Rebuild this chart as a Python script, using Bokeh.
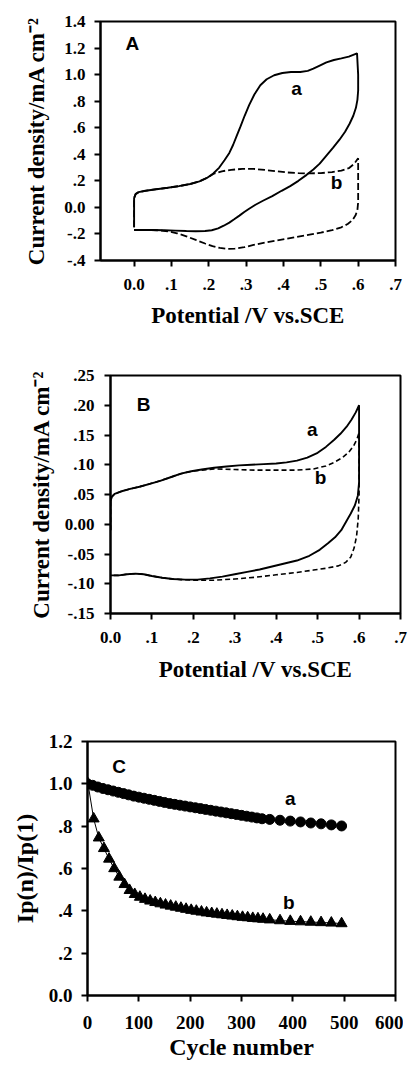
from bokeh.plotting import figure
from bokeh.layouts import column
from bokeh.models import Label, FixedTicker, Range1d, CustomJSTickFormatter
from bokeh.embed import file_html
from bokeh.resources import INLINE

SERIF = "Liberation Serif"
SANS = "Liberation Sans"

# ---------------- Panel A data ----------------
A_xticks = [0.0, 0.1, 0.2, 0.3, 0.4, 0.5, 0.6, 0.7]
A_xlabels = ["0.0", ".1", ".2", ".3", ".4", ".5", ".6", ".7"]
A_yticks = [-0.4, -0.2, 0.0, 0.2, 0.4, 0.6, 0.8, 1.0, 1.2, 1.4]
A_ylabels = ["-.4", "-.2", "0.0", ".2", ".4", ".6", ".8", "1.0", "1.2", "1.4"]

A_a_x = [0.000, 0.000, 0.000, 0.004, 0.012, 0.030, 0.060, 0.090, 0.120, 0.150, 0.175, 0.195,
         0.212, 0.228, 0.242, 0.255, 0.265, 0.275, 0.285, 0.296, 0.308, 0.322, 0.338, 0.355,
         0.375, 0.397, 0.420, 0.445, 0.465, 0.480, 0.497, 0.515, 0.535, 0.555, 0.575, 0.597,
         0.600, 0.600, 0.598, 0.594, 0.587, 0.577, 0.565, 0.550, 0.533, 0.515, 0.497, 0.480,
         0.462, 0.440, 0.418, 0.395, 0.370, 0.345, 0.325, 0.308, 0.295, 0.282, 0.268, 0.255,
         0.240, 0.225, 0.208, 0.190, 0.165, 0.140, 0.110, 0.080, 0.050, 0.020, 0.000]
A_a_y = [-0.150, 0.000, 0.070, 0.100, 0.115, 0.125, 0.137, 0.148, 0.160, 0.176, 0.196, 0.222,
         0.255, 0.300, 0.355, 0.410, 0.470, 0.540, 0.610, 0.690, 0.770, 0.850, 0.920, 0.965,
         0.995, 1.012, 1.020, 1.020, 1.028, 1.045, 1.068, 1.092, 1.110, 1.122, 1.135, 1.160,
         1.000, 0.880, 0.810, 0.750, 0.690, 0.630, 0.570, 0.510, 0.450, 0.390, 0.330, 0.285,
         0.245, 0.200, 0.160, 0.125, 0.085, 0.050, 0.020, -0.010, -0.035, -0.062, -0.090, -0.115,
         -0.138, -0.158, -0.172, -0.178, -0.180, -0.178, -0.175, -0.172, -0.170, -0.170, -0.170]

A_b_x = [0.000, 0.000, 0.000, 0.004, 0.012, 0.030, 0.060, 0.090, 0.120, 0.150, 0.175, 0.195,
         0.212, 0.235, 0.260, 0.290, 0.320, 0.350, 0.380, 0.410, 0.440, 0.470, 0.500, 0.530,
         0.555, 0.575, 0.590, 0.600, 0.600, 0.600, 0.598, 0.593, 0.585, 0.572, 0.555, 0.530,
         0.500, 0.470, 0.440, 0.410, 0.380, 0.350, 0.320, 0.295, 0.270, 0.250, 0.230, 0.210,
         0.190, 0.165, 0.140, 0.115, 0.090, 0.060, 0.030, 0.000]
A_b_y = [-0.150, 0.000, 0.070, 0.100, 0.115, 0.125, 0.137, 0.148, 0.160, 0.176, 0.196, 0.222,
         0.252, 0.272, 0.283, 0.290, 0.290, 0.282, 0.272, 0.263, 0.258, 0.256, 0.258, 0.266,
         0.277, 0.295, 0.330, 0.370, 0.200, 0.040, -0.020, -0.060, -0.095, -0.125, -0.150, -0.172,
         -0.190, -0.205, -0.220, -0.235, -0.250, -0.265, -0.283, -0.300, -0.310, -0.312, -0.305, -0.292,
         -0.272, -0.245, -0.218, -0.195, -0.180, -0.172, -0.170, -0.170]

# ---------------- Panel B data ----------------
B_xticks = [0.0, 0.1, 0.2, 0.3, 0.4, 0.5, 0.6, 0.7]
B_xlabels = ["0.0", ".1", ".2", ".3", ".4", ".5", ".6", ".7"]
B_yticks = [-0.15, -0.10, -0.05, 0.0, 0.05, 0.10, 0.15, 0.20, 0.25]
B_ylabels = ["-.15", "-.10", "-.05", "0.00", ".05", ".10", ".15", ".20", ".25"]

B_a_x = [0.000, 0.000, 0.000, 0.003, 0.010, 0.025, 0.045, 0.070, 0.095, 0.120, 0.145, 0.170,
         0.195, 0.220, 0.250, 0.280, 0.310, 0.340, 0.370, 0.400, 0.425, 0.450, 0.475, 0.500,
         0.520, 0.540, 0.555, 0.570, 0.582, 0.592, 0.600,
         0.600, 0.600, 0.597, 0.590, 0.580, 0.570, 0.557, 0.542, 0.525, 0.505, 0.480, 0.450,
         0.420, 0.390, 0.360, 0.330, 0.300, 0.270, 0.240, 0.210, 0.180, 0.150, 0.125, 0.100,
         0.080, 0.060, 0.040, 0.020, 0.000]
B_a_y = [-0.010, 0.020, 0.038, 0.046, 0.051, 0.055, 0.059, 0.063, 0.068, 0.073, 0.079, 0.085,
         0.089, 0.092, 0.095, 0.097, 0.099, 0.100, 0.101, 0.102, 0.104, 0.107, 0.112, 0.120,
         0.130, 0.142, 0.152, 0.164, 0.176, 0.188, 0.200,
         0.120, 0.070, 0.048, 0.032, 0.018, 0.006, -0.010, -0.022, -0.032, -0.043, -0.053, -0.061,
         -0.066, -0.071, -0.076, -0.080, -0.084, -0.088, -0.091, -0.093, -0.093, -0.092, -0.090, -0.087,
         -0.084, -0.083, -0.084, -0.086, -0.086]

B_b_x = [0.000, 0.000, 0.000, 0.003, 0.010, 0.025, 0.045, 0.070, 0.095, 0.120, 0.145, 0.170,
         0.195, 0.220, 0.250, 0.300, 0.350, 0.400, 0.450, 0.490, 0.520, 0.540, 0.560, 0.575,
         0.587, 0.595, 0.600,
         0.600, 0.600, 0.598, 0.594, 0.588, 0.580, 0.568, 0.550, 0.520, 0.490, 0.450, 0.400,
         0.350, 0.300, 0.250, 0.200, 0.170, 0.150, 0.125, 0.100, 0.080, 0.060, 0.040, 0.020, 0.000]
B_b_y = [-0.010, 0.020, 0.038, 0.046, 0.051, 0.055, 0.059, 0.063, 0.068, 0.073, 0.079, 0.085,
         0.089, 0.091, 0.093, 0.092, 0.091, 0.091, 0.091, 0.093, 0.098, 0.104, 0.112, 0.121,
         0.132, 0.143, 0.154,
         0.100, 0.050, 0.010, -0.020, -0.040, -0.055, -0.064, -0.070, -0.074, -0.077, -0.081, -0.085,
         -0.089, -0.092, -0.094, -0.094, -0.093, -0.092, -0.090, -0.087, -0.084, -0.083, -0.084, -0.086, -0.086]

# ---------------- Panel C data ----------------
C_xticks = [0, 100, 200, 300, 400, 500, 600]
C_xlabels = ["0", "100", "200", "300", "400", "500", "600"]
C_yticks = [0.0, 0.2, 0.4, 0.6, 0.8, 1.0, 1.2]
C_ylabels = ["0.0", ".2", ".4", ".6", ".8", "1.0", "1.2"]

C_a_cycle = [0, 10, 20, 30, 40, 50, 60, 70, 80, 90, 100, 110, 120, 130, 140, 150, 160, 170,
             180, 190, 200, 210, 220, 230, 240, 250, 260, 270, 280, 290, 300, 310, 320, 330, 340,
             355, 375, 395, 415, 435, 455, 475, 495]
C_a_val = [1.000, 0.993, 0.985, 0.978, 0.972, 0.966, 0.960, 0.954, 0.948, 0.942, 0.937, 0.932,
           0.927, 0.922, 0.917, 0.912, 0.907, 0.903, 0.899, 0.895, 0.891, 0.887, 0.883, 0.879,
           0.875, 0.871, 0.867, 0.863, 0.859, 0.855, 0.851, 0.847, 0.843, 0.839, 0.835,
           0.832, 0.828, 0.824, 0.820, 0.815, 0.811, 0.806, 0.801]

C_b_cycle = [1, 12, 22, 32, 42, 52, 62, 72, 82, 92, 102, 112, 122, 132, 142, 152, 162, 172,
             182, 192, 202, 212, 222, 232, 242, 252, 262, 272, 282, 292, 302, 312, 322, 332, 342,
             355, 375, 395, 415, 435, 455, 475, 495]
C_b_val = [1.000, 0.835, 0.745, 0.695, 0.645, 0.600, 0.560, 0.525, 0.497, 0.478, 0.465, 0.455,
           0.447, 0.440, 0.434, 0.428, 0.423, 0.418, 0.413, 0.408, 0.403, 0.399, 0.395, 0.391,
           0.388, 0.385, 0.382, 0.379, 0.376, 0.373, 0.370, 0.368, 0.365, 0.363, 0.361,
           0.358, 0.354, 0.351, 0.349, 0.347, 0.345, 0.343, 0.340]

Y_TITLE_CV = "Current density/mA cm\u207b\u00b2"
X_TITLE_CV = "Potential /V vs.SCE"
Y_TITLE_C = "Ip(n)/Ip(1)"
X_TITLE_C = "Cycle number"

BORDER_L = 87
BORDER_R = 8


def fmt(tick_list, label_list):
    return CustomJSTickFormatter(args=dict(tk=tick_list, lb=label_list), code="""
        let best = 0;
        for (let i = 0; i < tk.length; i++) {
            if (Math.abs(tk[i] - tick) < Math.abs(tk[best] - tick)) best = i;
        }
        return lb[best];
    """)


def make_fig(frame_left, frame_right, h, bt, bb, xr, yr, xt, xl, yt, yl, tick_size,
             xtitle, ytitle, title_size, x_std, x_tstd, y_std, y_tstd):
    m = frame_left - BORDER_L
    w = frame_right - m + BORDER_R
    p = figure(width=w, height=h, x_range=Range1d(*xr), y_range=Range1d(*yr),
               output_backend="svg", toolbar_location=None, margin=(0, 0, 0, m),
               min_border_left=BORDER_L, min_border_right=BORDER_R,
               min_border_top=bt, min_border_bottom=bb)
    p.background_fill_color = "white"
    p.border_fill_color = "white"
    p.grid.visible = False
    p.outline_line_color = "black"
    p.outline_line_width = 2
    p.outline_line_alpha = 1.0
    for ax, t, l in ((p.xaxis[0], xt, xl), (p.yaxis[0], yt, yl)):
        ax.ticker = FixedTicker(ticks=t)
        ax.formatter = fmt(t, l)
        ax.axis_line_width = 2
        ax.axis_line_color = "black"
        ax.major_tick_line_width = 2
        ax.major_tick_line_color = "black"
        ax.major_tick_out = 6
        ax.major_tick_in = 0
        ax.minor_tick_out = 0
        ax.minor_tick_in = 0
        ax.major_label_text_font = SERIF
        ax.major_label_text_font_style = "bold"
        ax.major_label_text_font_size = tick_size
        ax.major_label_text_color = "black"
        ax.axis_label_text_font = SERIF
        ax.axis_label_text_font_style = "bold"
        ax.axis_label_text_font_size = title_size
        ax.axis_label_text_color = "black"
    p.xaxis.axis_label = xtitle
    p.yaxis.axis_label = ytitle
    p.xaxis.major_label_standoff = x_std
    p.xaxis.axis_label_standoff = x_tstd
    p.yaxis.major_label_standoff = y_std
    p.yaxis.axis_label_standoff = y_tstd
    return p


def add_text(p, x, y, text, size):
    p.add_layout(Label(x=x, y=y, text=text, text_font=SANS, text_font_style="bold",
                       text_font_size=size, text_color="black",
                       text_align="center", text_baseline="middle"))


# ---------------- Panel A ----------------
pA = make_fig(100, 395, 345, 21, 85, (-0.09, 0.7), (-0.4, 1.4),
              A_xticks, A_xlabels, A_yticks, A_ylabels, "17px",
              X_TITLE_CV, Y_TITLE_CV, "23px", 12, 10, 9, 12)
pA.line(A_a_x, A_a_y, line_color="black", line_width=1.9)
pA.line(A_b_x, A_b_y, line_color="black", line_width=1.8, line_dash="7 3")
add_text(pA, -0.005, 1.234, "A", "19px")
add_text(pA, 0.435, 0.898, "a", "19px")
add_text(pA, 0.542, 0.19, "b", "19px")

# ---------------- Panel B ----------------
pB = make_fig(110, 400, 355, 30, 87, (0.0, 0.7), (-0.15, 0.25),
              B_xticks, B_xlabels, B_yticks, B_ylabels, "17px",
              X_TITLE_CV, Y_TITLE_CV, "23px", 12, 11, 10, 8)
pB.line(B_a_x, B_a_y, line_color="black", line_width=1.9)
pB.line(B_b_x, B_b_y, line_color="black", line_width=1.6, line_dash="5 3")
add_text(pB, 0.08, 0.202, "B", "19px")
add_text(pB, 0.487, 0.160, "a", "19px")
add_text(pB, 0.507, 0.079, "b", "19px")

# ---------------- Panel C ----------------
pC = make_fig(87, 395, 369, 41, 74, (0, 600), (0.0, 1.2),
              C_xticks, C_xlabels, C_yticks, C_ylabels, "19px",
              X_TITLE_C, Y_TITLE_C, "24px", 14, 2, 9, 8)
pC.line(C_a_cycle, C_a_val, line_color="black", line_width=1)
pC.scatter(C_a_cycle, C_a_val, marker="circle", size=10, fill_color="black", line_color="black")
pC.line(C_b_cycle, C_b_val, line_color="black", line_width=1)
pC.scatter(C_b_cycle, C_b_val, marker="triangle", size=11, fill_color="black", line_color="black")
add_text(pC, 61.7, 1.083, "C", "19px")
add_text(pC, 395, 0.93, "a", "19px")
add_text(pC, 392, 0.438, "b", "19px")

layout = column(pA, pB, pC, spacing=0)
open("out.html", "w").write(file_html(layout, INLINE))
